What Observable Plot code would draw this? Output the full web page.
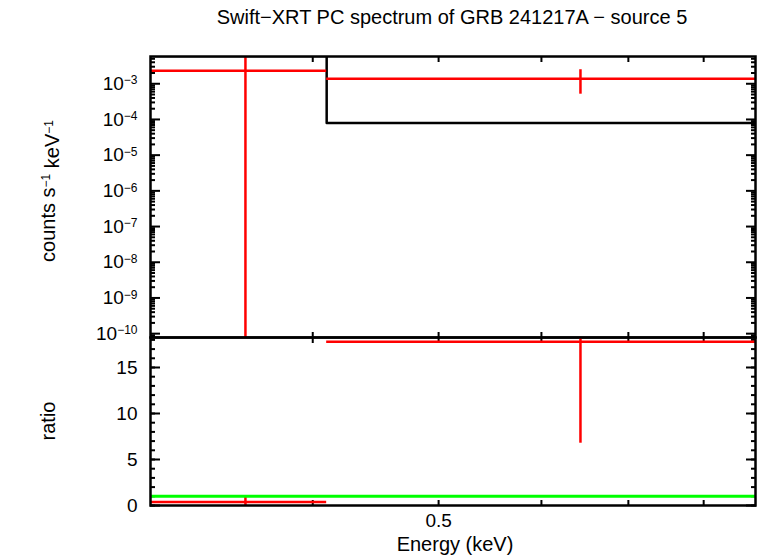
<!DOCTYPE html>
<html>
<head>
<meta charset="utf-8">
<script src="https://cdn.jsdelivr.net/npm/d3@7"></script>
<script src="https://cdn.jsdelivr.net/npm/@observablehq/plot@0.6"></script>
<style>
  html, body { margin: 0; padding: 0; background: #fff; }
  #chart { position: relative; width: 758px; height: 556px; overflow: hidden; font-family: "Liberation Sans", Arial, Helvetica, sans-serif; }
  #chart > svg { position: absolute; left: 0; }
</style>
</head>
<body>
<div id="chart"></div>
<script>
// ---- data ----
const binLo = [0.3, 0.41];          // keV, lower bin edge
const binHi = [0.41, 0.877];        // keV, upper bin edge
const binMid = [0.355, 0.643];      // keV, bin centre
const rate = [2.31e-3, 1.38e-3];    // counts s^-1 keV^-1
const rateLow = [-1.0e-3, 5.1e-4];  // lower end of error bar
const rateHigh = [5.6e-3, 2.47e-3]; // upper end of error bar
const modelEdges = [0.3, 0.41, 0.877];
const modelValues = [6.0e-3, 8.0e-5, 8.0e-5];
const ratio = [0.385, 17.8];
const ratioLow = [-0.17, 6.77];
const ratioHigh = [0.935, 31.8];

// ---- axes ----
const xDomain = [0.3, 0.877];
const yTopDomain = [7.8e-11, 5.8e-3];
const yBotDomain = [0, 18.26];
const xTicks = [0.4, 0.5, 0.6, 0.7, 0.8];
const xTickLabels = [0.5];
const yTopMajor = [1e-3, 1e-4, 1e-5, 1e-6, 1e-7, 1e-8, 1e-9, 1e-10];
const yTopExponents = ["−3", "−4", "−5", "−6", "−7", "−8", "−9", "−10"];
const yBotMajor = [0, 5, 10, 15];
const yBotMinor = d3.range(0, 19);

const yTopMinor = [];
for (let e = -11; e <= -3; e++) for (let m = 2; m <= 9; m++) {
  const v = m * Math.pow(10, e);
  if (v >= yTopDomain[0] && v <= yTopDomain[1]) yTopMinor.push(v);
}

const RED = "#ff0000", GREEN = "#00ff00";
const rows = binMid.map((m, i) => ({
  mid: m, lo: binLo[i], hi: binHi[i],
  rate: rate[i], rLo: Math.max(rateLow[i], yTopDomain[0]), rHi: rateHigh[i],
  ratio: ratio[i], qLo: ratioLow[i], qHi: ratioHigh[i]
}));
const model = modelEdges.map((e, i) => ({e, v: modelValues[i]}));

const W = 758, LEFT = 150, RIGHT = 3;
const TOPY = 56, MIDY = 337, BOTY = 505;
const font = "\"Liberation Sans\", Arial, Helvetica, sans-serif";

function xTickMarks() {
  return [
    Plot.axisX(xTicks, {anchor: "top", tickSize: -5, strokeWidth: 2, fill: "none", label: null}),
    Plot.axisX(xTicks, {anchor: "bottom", tickSize: -5, strokeWidth: 2, fill: "none", label: null})
  ];
}

const topPlot = Plot.plot({
  width: W, height: MIDY,
  marginTop: TOPY, marginBottom: 0, marginLeft: LEFT, marginRight: RIGHT,
  style: {fontFamily: font, fontSize: "19px", color: "black", background: "transparent", overflow: "visible"},
  x: {type: "log", domain: xDomain},
  y: {type: "log", domain: yTopDomain},
  marks: [
    ...xTickMarks(),
    Plot.axisY(yTopMajor, {anchor: "left", tickSize: -10, strokeWidth: 2, fill: "none", label: null}),
    Plot.axisY(yTopMinor, {anchor: "left", tickSize: -5, strokeWidth: 2, fill: "none", label: null}),
    Plot.axisY(yTopMajor, {anchor: "right", tickSize: -10, strokeWidth: 2, fill: "none", label: null}),
    Plot.axisY(yTopMinor, {anchor: "right", tickSize: -5, strokeWidth: 2, fill: "none", label: null}),
    Plot.axisY(yTopMajor, {anchor: "left", tickSize: 0, tickPadding: 13, label: null, textAnchor: "start",
      tickFormat: d => "10|" + yTopExponents[yTopMajor.indexOf(d)]}),
    Plot.line(model, {x: "e", y: "v", curve: "step-after", stroke: "black", strokeWidth: 2.5, clip: true}),
    Plot.ruleY(rows, {y: "rate", x1: "lo", x2: "hi", stroke: RED, strokeWidth: 2.5, clip: true}),
    Plot.ruleX(rows, {x: "mid", y1: "rLo", y2: "rHi", stroke: RED, strokeWidth: 2.5, clip: true}),
    Plot.frame({stroke: "black", strokeWidth: 2.5})
  ]
});
topPlot.style.top = "0px";

// turn "10|−3" tick labels into 10 with a raised, smaller exponent, right-aligned at x = -13
d3.select(topPlot).selectAll("text").each(function() {
  const t = d3.select(this);
  const s = t.text();
  if (!s.includes("|")) return;
  const [base, exp] = s.split("|");
  t.text(null).attr("text-anchor", "end");
  t.append("tspan").text(base);
  t.append("tspan").attr("dy", "-0.45em").style("font-size", "12px").text(exp);
});

const botPlot = Plot.plot({
  width: W, height: 556 - MIDY,
  marginTop: 0, marginBottom: 556 - BOTY, marginLeft: LEFT, marginRight: RIGHT,
  style: {fontFamily: font, fontSize: "19px", color: "black", background: "transparent", overflow: "visible"},
  x: {type: "log", domain: xDomain},
  y: {domain: yBotDomain},
  marks: [
    ...xTickMarks(),
    Plot.axisX(xTickLabels, {anchor: "bottom", tickSize: 0, tickPadding: 8, label: null, tickFormat: d => String(d)}),
    Plot.axisY(yBotMajor, {anchor: "left", tickSize: -10, strokeWidth: 2, fill: "none", label: null}),
    Plot.axisY(yBotMinor, {anchor: "left", tickSize: -5, strokeWidth: 2, fill: "none", label: null}),
    Plot.axisY(yBotMajor, {anchor: "right", tickSize: -10, strokeWidth: 2, fill: "none", label: null}),
    Plot.axisY(yBotMinor, {anchor: "right", tickSize: -5, strokeWidth: 2, fill: "none", label: null}),
    Plot.axisY(yBotMajor, {anchor: "left", tickSize: 0, tickPadding: 13, label: null}),
    Plot.ruleY(rows, {y: "ratio", x1: "lo", x2: "hi", stroke: RED, strokeWidth: 2.5, clip: true}),
    Plot.ruleX(rows, {x: "mid", y1: "qLo", y2: "qHi", stroke: RED, strokeWidth: 2.5, clip: true}),
    Plot.ruleY([1], {stroke: GREEN, strokeWidth: 3, clip: true}),
    Plot.frame({stroke: "black", strokeWidth: 2.5})
  ]
});
botPlot.style.top = MIDY + "px";

const chart = document.getElementById("chart");
chart.appendChild(topPlot);
chart.appendChild(botPlot);

// ---- titles ----
const overlay = d3.select(chart).append("svg")
  .attr("width", W).attr("height", 556).style("top", "0px")
  .style("font-family", font).style("pointer-events", "none");
overlay.append("text").attr("x", 452).attr("y", 24).attr("text-anchor", "middle")
  .style("font-size", "20px").text("Swift−XRT PC spectrum of GRB 241217A − source 5");
overlay.append("text").attr("x", 455).attr("y", 551).attr("text-anchor", "middle")
  .style("font-size", "20px").text("Energy (keV)");
const yl = overlay.append("text").attr("transform", "translate(55,191) rotate(-90)").attr("text-anchor", "middle")
  .style("font-size", "20px");
yl.append("tspan").text("counts s");
yl.append("tspan").attr("dy", "-0.45em").style("font-size", "12px").text("−1");
yl.append("tspan").attr("dy", "0.45em").text(" keV");
yl.append("tspan").attr("dy", "-0.45em").style("font-size", "12px").text("−1");
overlay.append("text").attr("transform", "translate(55,421) rotate(-90)").attr("text-anchor", "middle")
  .style("font-size", "20px").text("ratio");
</script>
</body>
</html>
